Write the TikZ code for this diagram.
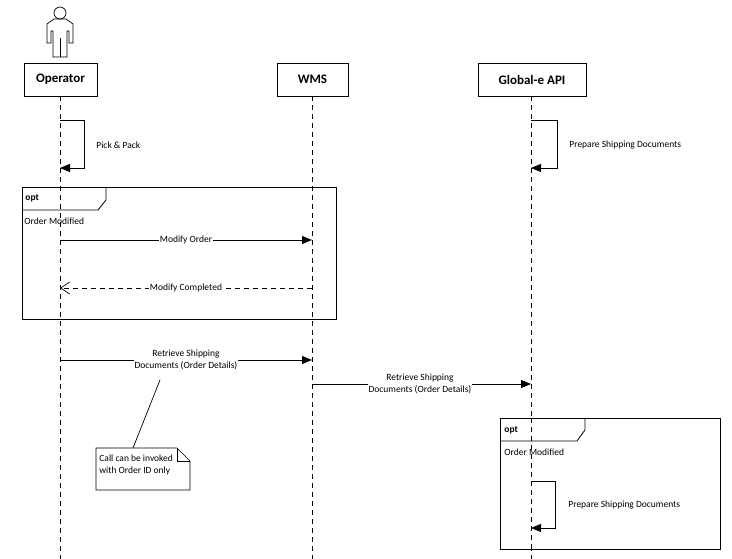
\documentclass[tikz,border=0pt]{standalone}
\usepackage{fontspec}
\setmainfont{Carlito}
\usetikzlibrary{arrows.meta}
\begin{document}
\begin{tikzpicture}[x=1pt,y=-1pt,line width=0.8pt,
  head/.style={draw,fill=white,minimum width=#1,minimum height=33pt,inner sep=0pt,font=\fontsize{13}{15}\selectfont\bfseries},
  life/.style={dash pattern=on 5pt off 4pt},
  msg/.style={-{Triangle[length=10pt,width=8pt]}},
  ret/.style={life,-{Straight Barb[length=9pt,width=12pt,line width=0.7pt]}},
  lbl/.style={font=\fontsize{9.5}{12}\selectfont,inner sep=1pt},
  mlbl/.style={lbl,fill=white,align=center}]
\useasboundingbox (0,0) rectangle (732,559);
% actor
\draw[line width=0.7pt] (60,13) circle (6);
\draw[line width=0.7pt] (54,19)--(66,19)--(73,24)--(73,43)--(69,43)--(69,31)--(67,31)--(67,57)--(53,57)--(53,31)--(51,31)--(51,43)--(47,43)--(47,24)--cycle;
\draw[line width=0.7pt] (60,38)--(60,57);
% heads
\node[head=73pt] (op) at (60.5,79.5) {Operator};
\node[head=71pt] (wms) at (312.5,79.5) {WMS};
\node[head=108pt] (ge) at (532,79.5) {Global-e API};
\coordinate (opE) at (60,559);
\coordinate (wmsE) at (312,559);
\coordinate (geE) at (531,559);
\draw[life] (op.south -| 60,0) -- (opE);
\draw[life] (wms.south -| 312,0) -- (wmsE);
\draw[life] (ge.south -| 531,0) -- (geE);
% self messages
\coordinate (a1) at (60,120); \coordinate (a2) at (60,168);
\draw[msg] (a1) -- (84,120) -- (84,168) -- (a2);
\node[lbl,anchor=west] (pp) at (95,145) {Pick \& Pack};
\coordinate (b1) at (531,120); \coordinate (b2) at (531,168);
\draw[msg] (b1) -- (557,120) -- (557,168) -- (b2);
\node[lbl,anchor=west] (psd1) at (568,145) {Prepare Shipping Documents};
% opt frame 1
\draw (22,187) rectangle (336,319);
\draw (22,210) -- (98,210) -- (106,200) -- (106,187);
\node[lbl,anchor=west,font=\fontsize{9.5}{12}\selectfont\bfseries] (opt1) at (24,198) {opt};
\node[lbl,anchor=west] (om1) at (23,221) {Order Modified};
\coordinate (m1s) at (60,240); \coordinate (m1e) at (312,240);
\draw[msg] (m1s) -- (m1e);
\node[lbl,fill=white,inner sep=0.5pt] (m1l) at (186,240) {Modify Order};
\coordinate (m2s) at (312,288); \coordinate (m2e) at (60,288);
\draw[ret] (m2s) -- (m2e);
\node[lbl,fill=white,inner sep=0.5pt] (m2l) at (186,288) {Modify Completed};
% retrieve
\coordinate (r1s) at (60,360); \coordinate (r1e) at (312,360);
\draw[msg] (r1s) -- (r1e);
\node[mlbl] (r1l) at (186,360) {Retrieve Shipping\\Documents (Order Details)};
\coordinate (r2s) at (312,384); \coordinate (r2e) at (531,384);
\draw[msg] (r2s) -- (r2e);
\node[mlbl] (r2l) at (420,384) {Retrieve Shipping\\Documents (Order Details)};
% note
\coordinate (n1) at (160,380); \coordinate (n2) at (133,448);
\draw[line width=0.7pt] (n1) -- (n2);
\draw[line width=0.7pt] (96,448) -- (177,448) -- (190,461) -- (190,490) -- (96,490) -- cycle;
\draw[line width=0.7pt] (177,448) -- (177,461) -- (190,461);
\node[lbl,align=left,anchor=north west] (note) at (98,454) {Call can be invoked\\with Order ID only};
% opt frame 2
\draw[fill=white] (500,418) rectangle (720,549);
\draw (500,441) -- (577,441) -- (585,430) -- (585,418);
\node[lbl,anchor=west,font=\fontsize{9.5}{12}\selectfont\bfseries] (opt2) at (503,430) {opt};
\node[lbl,anchor=west] (om2) at (503,452) {Order Modified};
\draw[life] (531,418) -- (531,549);
\coordinate (c1) at (531,481); \coordinate (c2) at (531,528);
\draw[msg] (c1) -- (555,481) -- (555,528) -- (c2);
\node[lbl,anchor=west] (psd2) at (567,505) {Prepare Shipping Documents};
\end{tikzpicture}
\end{document}
